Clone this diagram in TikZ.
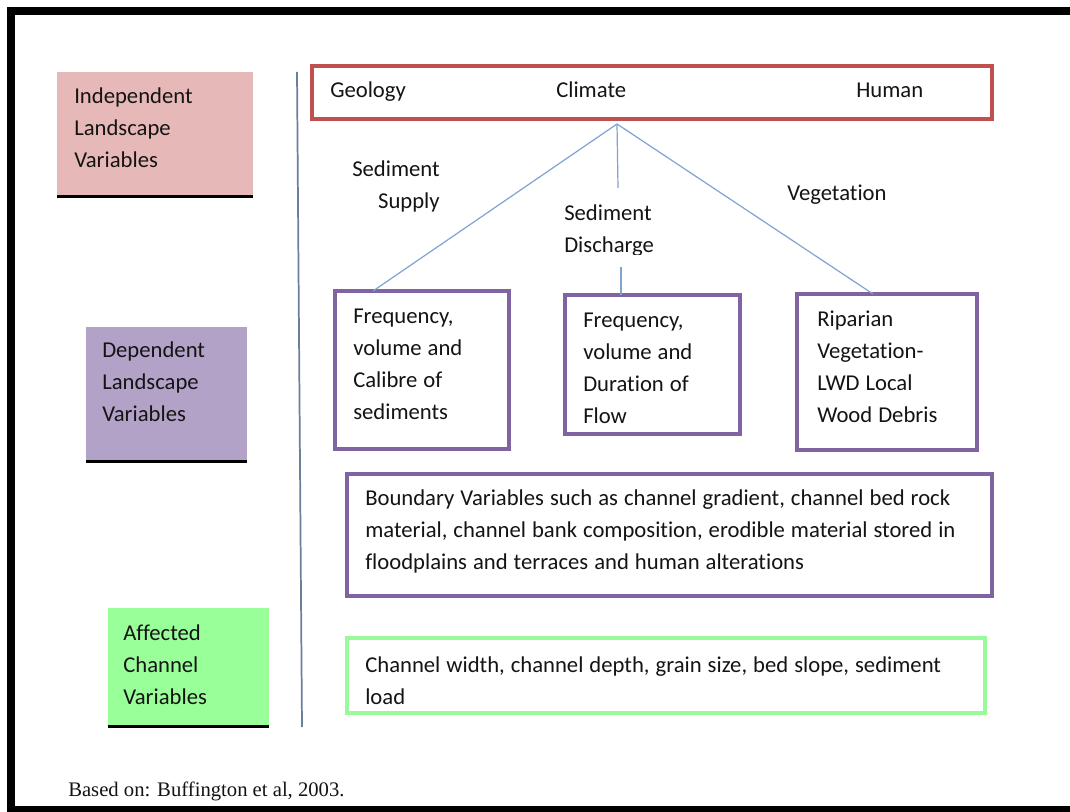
\documentclass[tikz,border=0pt]{standalone}
\usepackage{fontspec}
\setmainfont{Carlito}
\newfontfamily\calf[Ligatures={NoCommon,NoContextual}]{Carlito}
\newfontfamily\timesf{Liberation Serif}
\usetikzlibrary{fit}
\definecolor{pinkF}{HTML}{E6B9B8}
\definecolor{purpF}{HTML}{B3A2C7}
\definecolor{greenF}{HTML}{99FF99}
\definecolor{redS}{HTML}{C0504D}
\definecolor{purpS}{HTML}{8064A2}
\definecolor{greenS}{HTML}{99FA99}
\definecolor{linkC}{HTML}{7FA3D2}
\definecolor{axisC}{HTML}{6A7F9C}
\definecolor{txtC}{HTML}{141414}
\begin{document}
\begin{tikzpicture}[x=0.75pt,y=-0.75pt,
  lbl/.style={text=txtC, inner sep=0pt, font={\calf\fontsize{17}{24}\selectfont\spaceskip=0.265em plus 0.1em minus 0.05em\relax}, text width=520pt, align=flush left, anchor=base west},
  lblr/.style={text=txtC, inner sep=0pt, font={\calf\fontsize{17}{24}\selectfont}, text width=120pt, align=flush right, anchor=base east},
  catbox/.style={inner sep=0pt, draw=none},
  redbox/.style={inner sep=0pt, draw=redS, line width=2.3pt},
  purpbox/.style={inner sep=0pt, draw=purpS, line width=2.3pt},
  greenbox/.style={inner sep=0pt, draw=greenS, line width=2.3pt},
  underline/.style={line width=2.2pt, black},
  link/.style={linkC, line width=0.9pt},
  frame/.style={fill=black}
]
\useasboundingbox (0,0) rectangle (1070,812);
\fill[white] (0,0) rectangle (1070,812);
% frame
\fill[frame] (7,7) rectangle (1070,15);
\fill[frame] (7,7) rectangle (15,812);
\fill[frame] (7,806) rectangle (1070,812);

% category boxes
\node[catbox, fill=pinkF, fit={(57,72) (253,196)}] (indep) {};
\draw[underline] (indep.south west) -- (indep.south east);
\node[lbl] (indepT) at (74,104) {Independent\\Landscape\\Variables};

\node[catbox, fill=purpF, fit={(86,327) (247,461)}] (dep) {};
\draw[underline] (dep.south west) -- (dep.south east);
\node[lbl] (depT) at (102,358) {Dependent\\Landscape\\Variables};

\node[catbox, fill=greenF, fit={(108,608) (269,726)}] (aff) {};
\draw[underline] (aff.south west) -- (aff.south east);
\node[lbl] (affT) at (123,640) {Affected\\Channel\\Variables};

% vertical axis
\coordinate (axTop) at (297,72);
\coordinate (axBot) at (302,727);
\draw[axisC, line width=1.3pt] (axTop) -- (axBot);

% top red box
\node[redbox, fit={(312,66) (992,119)}] (top) {};
\node[lbl] (geo) at (330,98) {Geology};
\node[lbl] (cli) at (556,98) {Climate};
\node[lbl] (hum) at (856,98) {Human};

% labels
\node[lblr] (supply) at (440,177) {Sediment\\Supply};
\begin{scope}
  \clip (550,190) rectangle (700,255);
  \node[lbl] (disch) at (564,221) {Sediment\\Discharge};
\end{scope}
\node[lbl] (veg) at (787,201) {Vegetation};

% dependent boxes
\node[purpbox, fit={(335,291) (509,449)}] (boxA) {};
\node[lbl] (boxAT) at (353,324) {Frequency,\\volume and\\Calibre of\\sediments};
\node[purpbox, fit={(565,295) (740,434)}] (boxB) {};
\node[lbl] (boxBT) at (583,328) {Frequency,\\volume and\\Duration of\\Flow};
\node[purpbox, fit={(797,294) (977,450)}] (boxC) {};
\node[lbl] (boxCT) at (817,327) {Riparian\\Vegetation-\\LWD Local\\Wood Debris};

% connectors
\coordinate (apex) at (617,124);
\coordinate (aEnd) at (373,291);
\coordinate (mEnd) at (618,188);
\coordinate (bStart) at (621,267);
\coordinate (bEnd) at (621,295);
\coordinate (cEnd) at (873,294);
\draw[link] (apex) -- (aEnd);
\draw[link] (apex) -- (mEnd);
\draw[link] (bStart) -- (bEnd);
\draw[link] (apex) -- (cEnd);

% boundary box
\node[purpbox, fit={(347,474) (992,596)}] (bound) {};
\node[lbl] (boundT) at (365,505) {Boundary Variables such as channel gradient, channel bed rock\\material, channel bank composition, erodible material stored in\\floodplains and terraces and human alterations};

% channel box
\node[greenbox, fit={(347,638) (985,713)}] (chan) {};
\node[lbl] (chanT) at (365,672) {Channel width, channel depth, grain size, bed slope, sediment\\load};

% footnote
\node[text=txtC, inner sep=0pt, anchor=base west, font=\timesf\fontsize{15.5}{18}\selectfont] (foot) at (68,796) {Based on: Buffington et al, 2003.};
\end{tikzpicture}
\end{document}
